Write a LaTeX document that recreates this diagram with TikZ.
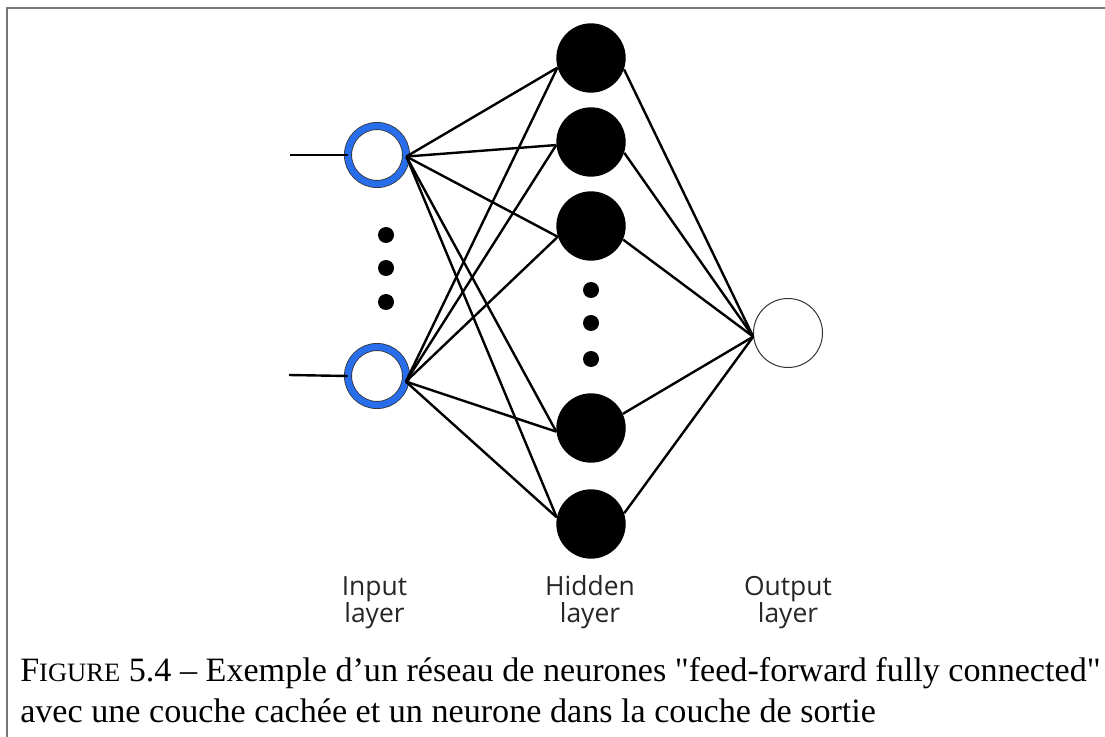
\documentclass[tikz,border=0pt]{standalone}
\usepackage{fontspec}
\setmainfont{Liberation Serif}
\newfontfamily\layerfont{Open Sans}
\definecolor{ringblue}{RGB}{40,110,235}
\definecolor{framegray}{RGB}{120,120,120}
\tikzset{
    inneuron/.style={circle, draw=black!80, line width=0.6pt, double=ringblue, double distance=4.8pt, minimum size=43.5pt, inner sep=0pt},
    hidneuron/.style={circle, fill=black, minimum size=52pt, inner sep=0pt},
    outneuron/.style={circle, draw=black!80, line width=0.75pt, minimum size=51.75pt, inner sep=0pt},
    vdot/.style={circle, fill=black, minimum size=12pt, inner sep=0pt},
    synapse/.style={line width=1.8pt},
    layerlabel/.style={font=\layerfont\fontsize{19.8}{20.25}\selectfont, align=center, inner sep=0pt, text=black!85}
}
\begin{document}
\begin{tikzpicture}[x=0.75pt, y=-0.75pt]
            \useasboundingbox (0,0) rectangle (1105,737);
            \draw[framegray, line width=1.1pt] (7,737) -- (7,8) -- (1105,8);

            % input layer
            \node[inneuron] (i1) at (377,155) {};
            \node[inneuron] (i2) at (377,376) {};
            \coordinate (x1) at (290,155);
            \coordinate (x2) at (289,375);
            \node[vdot] (idot1) at (386,235) {};
            \node[vdot] (idot2) at (386,268) {};
            \node[vdot] (idot3) at (386,302) {};

            % hidden layer
            \node[hidneuron] (h1) at (591,58) {};
            \node[hidneuron] (h2) at (591,142) {};
            \node[hidneuron] (h3) at (591,226) {};
            \node[vdot] (hdot1) at (591,290) {};
            \node[vdot] (hdot2) at (591,323) {};
            \node[vdot] (hdot3) at (591,359) {};
            \node[hidneuron] (h4) at (591,428) {};
            \node[hidneuron] (h5) at (591,524) {};

            % output layer
            \node[outneuron] (o) at (788,333) {};

            \draw[synapse] (x1) -- (i1.west);
            \draw[synapse] (x2) -- (i2.west);

            \draw[synapse] (i1.357) -- (h1.196);
            \draw[synapse] (i1.357) -- (h2.185);
            \draw[synapse] (i1.357) -- (h3.198);
            \draw[synapse] (i1.357) -- (h4.186);
            \draw[synapse] (i1.357) -- (h5.169);
            \draw[synapse] (i2.349) -- (h1.196);
            \draw[synapse] (i2.349) -- (h2.185);
            \draw[synapse] (i2.349) -- (h3.198);
            \draw[synapse] (i2.349) -- (h4.186);
            \draw[synapse] (i2.349) -- (h5.169);

            \draw[synapse] (h1.341) -- (o.186);
            \draw[synapse] (h2.342) -- (o.186);
            \draw[synapse] (h3.337) -- (o.186);
            \draw[synapse] (h4.24) -- (o.186);
            \draw[synapse] (h5.18) -- (o.186);

            % labels (base = last line)
            \node[layerlabel, anchor=base] (linput) at (374.5,622) {Input\\layer};
            \node[layerlabel, anchor=base] (lhidden) at (590,622) {Hidden\\layer};
            \node[layerlabel, anchor=base] (loutput) at (788,622) {Output\\layer};

            \node[anchor=base west, inner sep=0pt, align=left, font=\fontsize{25.6}{30.75}\selectfont] (caption) at (20,722)
                {F{\fontsize{19.9}{19.9}\selectfont IGURE} 5.4 -- Exemple d’un réseau de neurones \textquotedbl feed-forward fully connected\textquotedbl\\
                 avec une couche cachée et un neurone dans la couche de sortie};
        \end{tikzpicture}
\end{document}
